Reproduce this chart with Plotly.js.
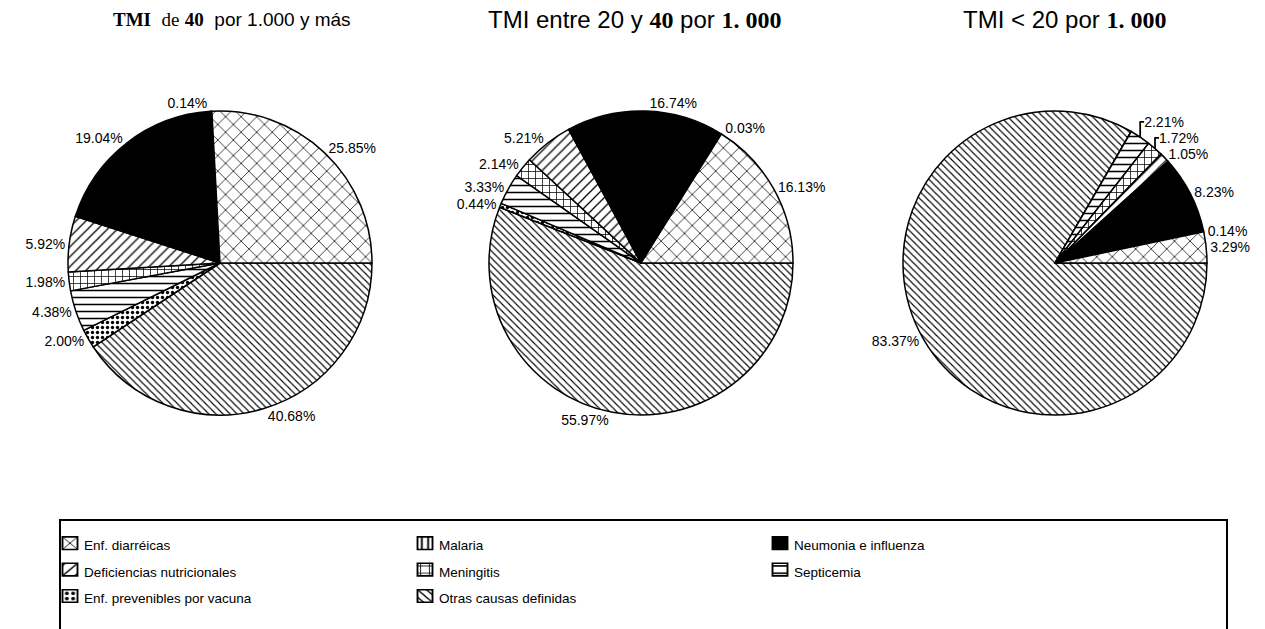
<!DOCTYPE html>
<html><head><meta charset="utf-8">
<script src="https://cdn.plot.ly/plotly-3.0.1.min.js"></script>
<style>
html,body{margin:0;padding:0;background:#fff}
#chart{width:1265px;height:629px}
.legendtext{font-size:13.5px !important}
.legendpoints path{transform:translate(26px,0) scale(1.25,1.05)}
</style>
</head><body><div id="chart"></div><script>
// Categories in the order they appear counterclockwise from 3 o'clock (and in the legend)
const causes = ['Enf. diarréicas','Malaria','Neumonia e influenza','Deficiencias nutricionales','Meningitis','Septicemia','Enf. prevenibles por vacuna','Otras causas definidas'];
// Percent values per infant-mortality group
const tmiAlta  = [25.85, 0.14, 19.04, 5.92, 1.98, 4.38, 2.00, 40.68];
const tmiMedia = [16.13, 0.03, 16.74, 5.21, 2.14, 3.33, 0.44, 55.97];
const tmiBaja  = [3.29, 0.14, 8.23, 1.05, 1.72, 2.21, 0, 83.37];
const serif = (s, bold) => bold ? '<b><span style="font-family:\'Liberation Serif\'">' + s + '</span></b>' : '<span style="font-family:\'Liberation Serif\'">' + s + '</span>';
const groupTitles = [
  serif('TMI', true) + '  ' + serif('de') + ' ' + serif('40', true) + '  por 1.000 y más',
  'TMI entre 20 y ' + serif('40', true) + ' por ' + serif('1. 000', true),
  'TMI &lt; 20 por ' + serif('1. 000', true)
];

// Fill style of each category (same order as causes)
const shapes   = ['x', '|', '', '/', '+', '-', '.', '\\'];
const psize    = [11, 5, 8, 7, 7, 7, 5, 5];
const psolid   = [0.13, 0.3, 0.3, 0.18, 0.2, 0.22, 0.35, 0.22];
const fills    = shapes.map(s => s === '' ? '#000000' : '#ffffff');

const W = 1265, H = 629, R = 152, CY = 263;
const centersX = [220, 641, 1055];
const series = [tmiAlta, tmiMedia, tmiBaja];
const rev = a => a.slice().reverse();

const traces = series.map((vals, k) => ({
  type: 'pie',
  labels: rev(causes),
  values: rev(vals),
  sort: false,
  direction: 'clockwise',
  rotation: 90,
  textposition: 'outside',
  texttemplate: rev(vals).map(v => v > 0 ? '%{value:.2f}%' : ''),
  textfont: {family: 'Liberation Sans, Arial, sans-serif', size: 14, color: '#000'},
  hoverinfo: 'label+value',
  showlegend: k === 0,
  marker: {
    colors: rev(fills),
    line: {color: '#000', width: 1.5},
    pattern: {shape: rev(shapes), size: rev(psize), solidity: rev(psolid), fgcolor: '#000', bgcolor: '#fff', fillmode: 'replace'}
  },
  domain: {
    x: [(centersX[k] - R) / W, (centersX[k] + R) / W],
    y: [(H - CY - R) / H, (H - CY + R) / H]
  },
  automargin: false
}));

const titleX = [232, 634, 1064];
const titleSize = [19, 24, 24];
const annotations = groupTitles.map((t, k) => ({
  text: t, xref: 'paper', yref: 'paper', x: titleX[k] / W, y: (H - 20) / H,
  xanchor: 'center', yanchor: 'middle', showarrow: false,
  font: {family: 'Liberation Sans, Arial, sans-serif', size: titleSize[k], color: '#000'}
}));

const layout = {
  width: W, height: H,
  margin: {l: 0, r: 0, t: 0, b: 0},
  paper_bgcolor: '#fff',
  showlegend: true,
  legend: {
    orientation: 'h', x: 44 / W, xanchor: 'left', y: (H - 525) / H, yanchor: 'top',
    entrywidth: 310, entrywidthmode: 'pixels', traceorder: 'reversed',
    font: {family: 'Liberation Sans, Arial, sans-serif', size: 18, color: '#000'},
    bgcolor: 'rgba(0,0,0,0)', borderwidth: 0
  },
  annotations: annotations,
  shapes: [{
    type: 'rect', xref: 'paper', yref: 'paper',
    x0: 60 / W, x1: 1227 / W, y0: -0.1, y1: (H - 520) / H,
    line: {color: '#000', width: 2}, fillcolor: 'rgba(0,0,0,0)'
  }]
};

Plotly.newPlot('chart', traces, layout, {displayModeBar: false, staticPlot: true});
</script></body></html>
